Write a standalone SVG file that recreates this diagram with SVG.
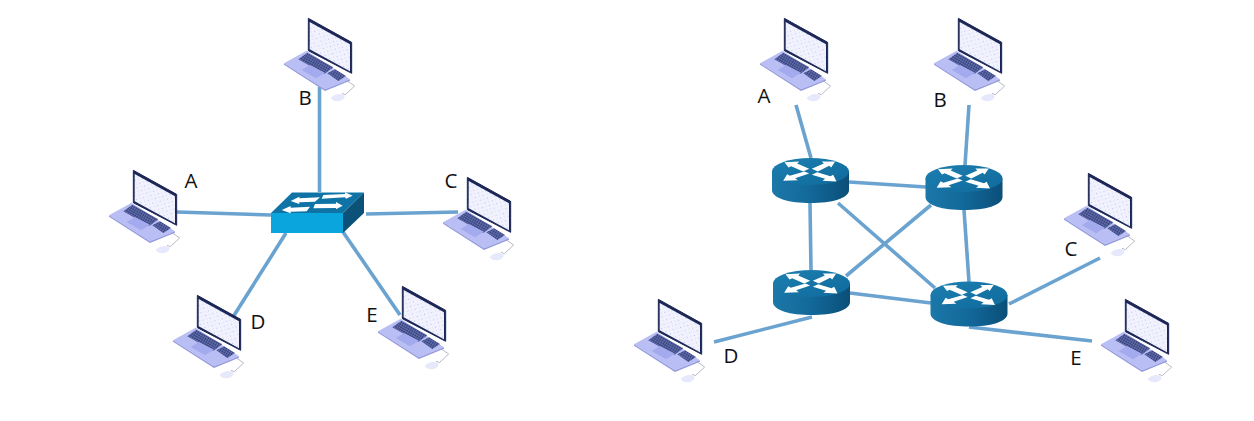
<svg xmlns="http://www.w3.org/2000/svg" xmlns:xlink="http://www.w3.org/1999/xlink" width="1254" height="421" viewBox="0 0 1254 421">
<style>
.c{fill:none;stroke:#6aa3d0;stroke-width:3.6;stroke-linecap:butt}
text{font-family:"Open Sans","Liberation Sans",sans-serif;font-size:20.500px;fill:#111;text-anchor:middle}
</style>
<defs>
<filter id="soft" x="-5%" y="-5%" width="110%" height="110%"><feGaussianBlur stdDeviation="0.4"/></filter>
<pattern id="dots" width="16" height="16" patternUnits="userSpaceOnUse" patternTransform="rotate(30)"><rect width="16" height="16" fill="#f1f2fe"/><circle cx="4" cy="4" r="1.8" fill="#bcc2ec"/><circle cx="12" cy="11" r="1.4" fill="#cdd2f3"/></pattern>
<pattern id="keys" width="7" height="7" patternUnits="userSpaceOnUse" patternTransform="rotate(30)"><rect width="7" height="7" fill="#39467f"/><path d="M0 6H7M6 0V7" stroke="#7f88cc" stroke-width="1.200"/></pattern>
<linearGradient id="rside" x1="0" x2="1" y1="0" y2="0"><stop offset="0" stop-color="#1b78a8"/><stop offset=".5" stop-color="#12689a"/><stop offset="1" stop-color="#0b4f78"/></linearGradient>
<linearGradient id="rtop" x1="0" x2="1" y1="0" y2="1"><stop offset="0" stop-color="#1d7fb0"/><stop offset="1" stop-color="#0f6a9c"/></linearGradient>
<g id="laptop" transform="scale(.3333)" filter="url(#soft)">
<path d="M225 208 L254 228 L226 254 L216 250" fill="none" stroke="#b9b9c6" stroke-width="3"/>
<path d="M182 264 Q198 248 220 254 Q230 262 212 272 Q192 278 182 264Z" fill="#e6e8fb"/>
<path d="M42 160 L110 122 L240 208 L165 238 Z" fill="#b9bef4"/>
<path d="M42 160 L42 164 L165 243 L240 212 L240 208 L165 238 Z" fill="#949bde"/>
<path d="M85 148 L112 128 L190 172 L163 192 Z" fill="url(#keys)"/>
<path d="M172 190 L195 178 L228 198 L205 213 Z" fill="url(#keys)"/>
<path d="M95 180 L120 165 L165 188 L138 205 Z" fill="#a4aaee"/>
<path d="M115 25 L245 97 L245 190 L115 122 Z" fill="#1c2757" stroke="#1c2757" stroke-width="3" stroke-linejoin="round"/>
<path d="M119 36 L240 103 L240 184 L119 118 Z" fill="url(#dots)"/>
</g>
<g id="router">
<path d="M-38.500 -9 V9.500 C-38.500 18 -21 22.500 0 22.500 C21 22.500 38.500 18 38.500 9.500 V-9 Z" fill="url(#rside)"/>
<ellipse cx="0" cy="-9" rx="38.500" ry="13.500" fill="url(#rtop)"/>
<g fill="#fff" transform="translate(0,-9) scale(.3333)">
<path d="M-78 -28 L-34 -30 L-40 -24 L-4 -8 L-22 0 L-58 -16 L-66 -12 Z"/>
<path d="M74 -30 L34 -30 L40 -24 L4 -8 L22 0 L56 -17 L62 -12 Z"/>
<path d="M-82 28 L-70 8 L-62 13 L-18 0 L-4 6 L-46 20 L-38 26 Z"/>
<path d="M78 30 L36 28 L44 22 L4 10 L20 2 L60 14 L68 10 Z"/>
</g>
</g>
</defs>
<rect width="1254" height="421" fill="#fff"/>
<g id="connectors">
<path class="c" d="M319.500 87V192"/>
<path class="c" d="M177 212L271 215"/>
<path class="c" d="M366 214L458 212"/>
<path class="c" d="M286 233L233 317"/>
<path class="c" d="M343 232L400 315"/>
<path class="c" d="M796 105L811 158"/>
<path class="c" d="M969 105L965 165"/>
<path class="c" d="M849 182L926 187"/>
<path class="c" d="M810 203L811 270"/>
<path class="c" d="M964 210L969 282"/>
<path class="c" d="M838 203L935 288"/>
<path class="c" d="M931 205L846 276"/>
<path class="c" d="M850 293L931 303"/>
<path class="c" d="M1009 304L1100 258"/>
<path class="c" d="M714 342L812 317"/>
<path class="c" d="M969 327L1092 341"/>
</g>
<g id="switch">
<path d="M271 213L292 192.500H364L343 213Z" fill="#0f74a5"/>
<path d="M343 213L364 192.500V213L343 233Z" fill="#0b5178"/>
<path d="M271 213H343V233H271Z" fill="#0aa5dc"/>
<g fill="#fff" transform="translate(260,180) scale(.3333)">
<path d="M190 45L255 42L255 37L278 47L258 56L255 52L185 56Z"/>
<path d="M92 63L118 50V55L180 52L165 65L118 67V72Z"/>
<path d="M165 72L228 71V66L248 77L228 88V84L160 85Z"/>
<path d="M65 90L92 78V83L150 80L140 94L92 95V100Z"/>
</g>
</g>
<g id="left-a"><use xlink:href="#laptop" transform="translate(95,162)"/><text x="191" y="188">A</text></g>
<g id="left-b"><use xlink:href="#laptop" transform="translate(270,10)"/><text x="305" y="105">B</text></g>
<g id="left-c"><use xlink:href="#laptop" transform="translate(429,169)"/><text x="451" y="188">C</text></g>
<g id="left-d"><use xlink:href="#laptop" transform="translate(159,287)"/><text x="258" y="329">D</text></g>
<g id="left-e"><use xlink:href="#laptop" transform="translate(364,278)"/><text x="372" y="322">E</text></g>
<g id="router-1"><use xlink:href="#router" transform="translate(810.500,180.500)"/></g>
<g id="router-2"><use xlink:href="#router" transform="translate(964,187.500)"/></g>
<g id="router-3"><use xlink:href="#router" transform="translate(811.500,292.500)"/></g>
<g id="router-4"><use xlink:href="#router" transform="translate(969,304)"/></g>
<g id="right-a"><use xlink:href="#laptop" transform="translate(746,10)"/><text x="764" y="103">A</text></g>
<g id="right-b"><use xlink:href="#laptop" transform="translate(920,10)"/><text x="940" y="107">B</text></g>
<g id="right-c"><use xlink:href="#laptop" transform="translate(1050,165)"/><text x="1071" y="256">C</text></g>
<g id="right-d"><use xlink:href="#laptop" transform="translate(620,291)"/><text x="731" y="363">D</text></g>
<g id="right-e"><use xlink:href="#laptop" transform="translate(1087,291)"/><text x="1076" y="365">E</text></g>
</svg>
